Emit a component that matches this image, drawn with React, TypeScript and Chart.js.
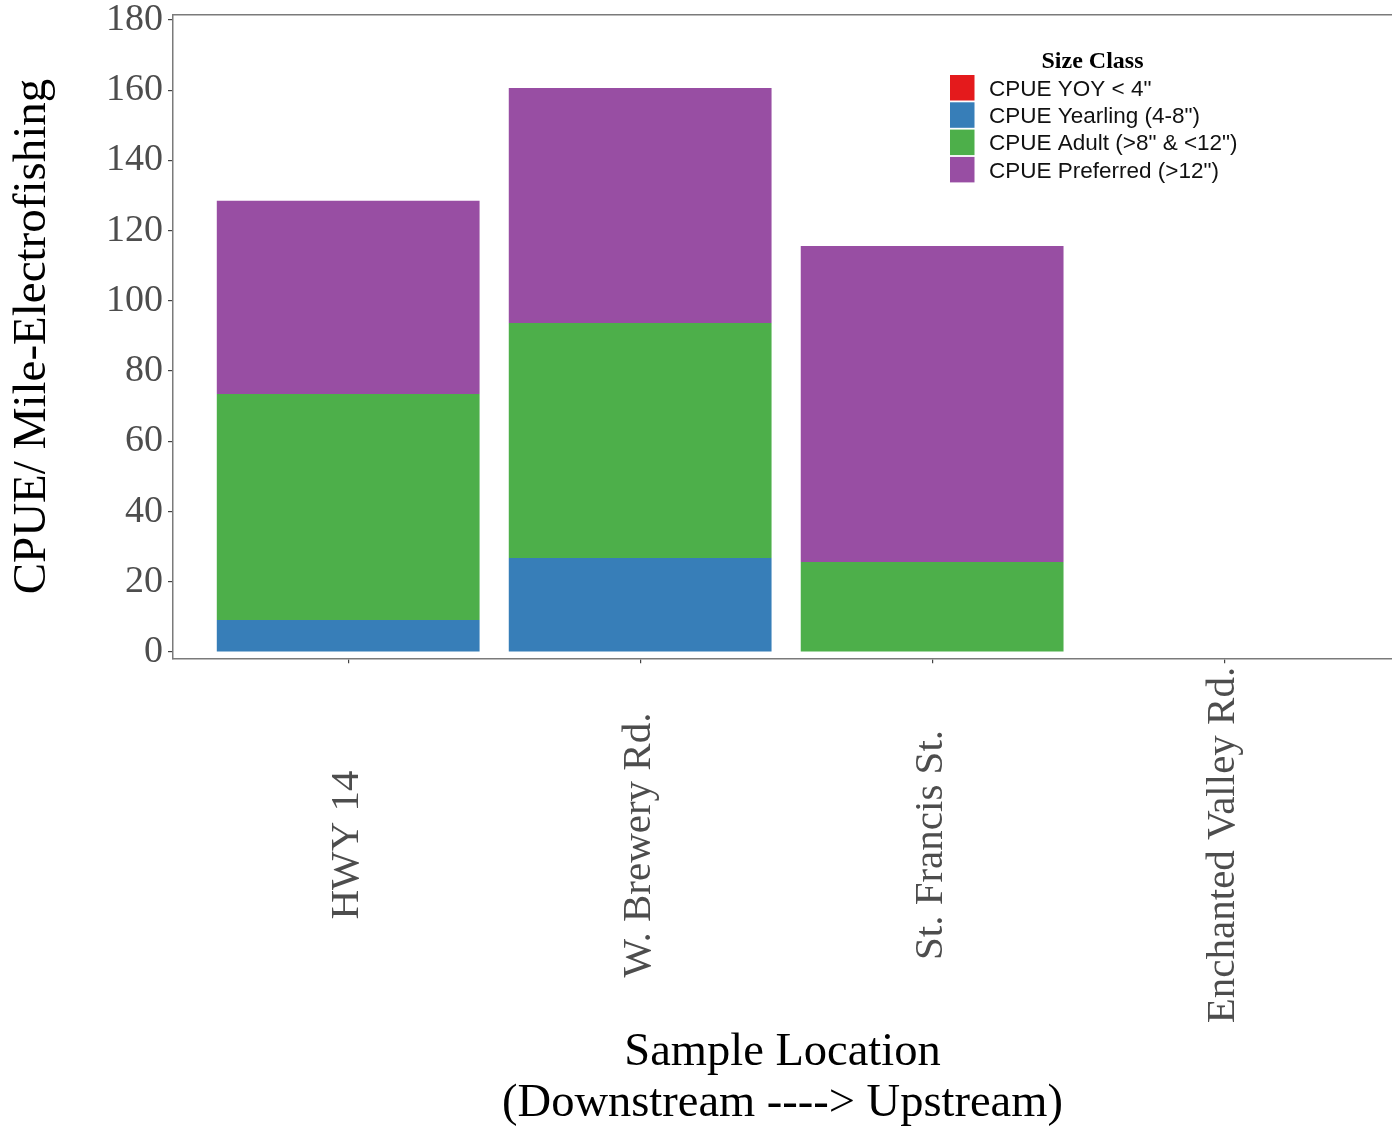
import React, { useEffect, useRef } from 'react';
import { Chart, registerables } from 'chart.js';

Chart.register(...registerables);

const categories = ['HWY 14', 'W. Brewery Rd.', 'St. Francis St.', 'Enchanted Valley Rd.'];
const seriesNames = ['CPUE YOY < 4"', 'CPUE Yearling (4-8")', 'CPUE Adult (>8" & <12")', 'CPUE Preferred (>12")'];
const yoy = [0, 0, 0, 0];
const yearling = [9.1, 26.8, 0, 0];
const adult = [64.4, 66.9, 25.6, 0];
const preferred = [55.0, 66.9, 90.0, 0];
const yTicks = [0, 20, 40, 60, 80, 100, 120, 140, 160, 180];
const seriesColors = ['#e41a1c', '#377eb8', '#4daf4a', '#984ea3'];
const legendTitle = 'Size Class';
const yTitle = 'CPUE/ Mile-Electrofishing';
const xTitle = ['Sample Location', '(Downstream ----> Upstream)'];

const SERIF = "'Liberation Serif', 'Times New Roman', serif";
const SANS = "'Liberation Sans', Arial, sans-serif";
const AXIS_COLOR = '#7a7a7a';
const TICK_TEXT = '#4d4d4d';

const W = 1392;
const H = 1130;

const customDraw = {
  id: 'customDraw',
  afterDraw(chart: any) {
    const ctx = chart.ctx;
    const area = chart.chartArea;
    const xs = chart.scales.x;
    ctx.save();
    // top border of panel
    ctx.strokeStyle = AXIS_COLOR;
    ctx.lineWidth = 1.5;
    ctx.beginPath();
    ctx.moveTo(area.left, area.top);
    ctx.lineTo(area.right, area.top);
    ctx.stroke();

    // rotated, centred category labels
    ctx.font = `41px ${SERIF}`;
    ctx.fillStyle = TICK_TEXT;
    ctx.textAlign = 'center';
    ctx.textBaseline = 'alphabetic';
    categories.forEach((c, i) => {
      const px = xs.getPixelForValue(i);
      ctx.save();
      ctx.translate(px + 10, 845);
      ctx.rotate(-Math.PI / 2);
      ctx.fillText(c, 0, 0);
      ctx.restore();
    });

    // legend
    ctx.fillStyle = '#000';
    ctx.font = `bold 24px ${SERIF}`;
    ctx.textAlign = 'center';
    ctx.fillText(legendTitle, 1092.5, 68.3);
    ctx.textAlign = 'left';
    ctx.font = `22.5px ${SANS}`;
    chart.data.datasets.forEach((ds: any, i: number) => {
      const top = 75 + i * 27.3;
      ctx.fillStyle = ds.backgroundColor;
      ctx.fillRect(950, top, 24.5, 25.5);
      ctx.fillStyle = '#111';
      ctx.fillText(ds.label, 989, top + 12.75 + 8);
    });
    ctx.restore();
  },
};

export default function App() {
  const ref = useRef<HTMLCanvasElement | null>(null);

  useEffect(() => {
    if (!ref.current) return;
    const seriesValues = [yoy, yearling, adult, preferred];
    const chart = new Chart(ref.current, {
      type: 'bar',
      data: {
        datasets: seriesNames.map((name, s) => ({
          label: name,
          data: categories.map((_, i) => ({ x: i, y: seriesValues[s][i] })),
          backgroundColor: seriesColors[s],
          borderWidth: 0,
          barPercentage: 0.9,
          categoryPercentage: 1,
        })),
      },
      options: {
        responsive: false,
        animation: false,
        events: [],
        layout: { padding: { top: 14.7, left: 0, right: 0, bottom: 0 } },
        plugins: {
          legend: { display: false },
          tooltip: { enabled: false },
          title: { display: false },
        },
        scales: {
          x: {
            type: 'linear',
            stacked: true,
            offset: false,
            min: -0.6,
            max: 3.575,
            afterBuildTicks: (s: any) => {
              s.ticks = categories.map((_, i) => ({ value: i }));
            },
            afterFit: (s: any) => {
              s.height = H - 658.3;
            },
            ticks: { display: false },
            grid: { offset: false, drawOnChartArea: false, drawTicks: true, tickLength: 5, color: '#444', lineWidth: 1.2 },
            border: { display: true, color: AXIS_COLOR, width: 1.5 },
            title: {
              display: true,
              text: xTitle,
              color: '#000',
              font: { family: SERIF, size: 46.5, lineHeight: 1.08 },
              padding: { top: 0, bottom: 1.5 },
            },
          },
          y: {
            type: 'linear',
            stacked: true,
            min: -1.8,
            max: 181.5,
            afterBuildTicks: (s: any) => {
              s.ticks = yTicks.map((v) => ({ value: v }));
            },
            afterFit: (s: any) => {
              s.width = 173;
            },
            ticks: {
              autoSkip: false,
              color: TICK_TEXT,
              font: { family: SERIF, size: 38, lineHeight: 0.3 },
              padding: 5,
            },
            grid: { drawOnChartArea: false, drawTicks: true, tickLength: 5, color: '#444', lineWidth: 1.2 },
            border: { display: true, color: AXIS_COLOR, width: 1.5 },
            title: {
              display: true,
              text: yTitle,
              color: '#000',
              font: { family: SERIF, size: 47 },
              padding: { top: 4, bottom: 0 },
            },
          },
        },
      } as any,
      plugins: [customDraw],
    });
    return () => chart.destroy();
  }, []);

  return (
    <div style={{ position: 'absolute', left: 0, top: 0, width: W, height: H, background: '#fff' }}>
      <canvas ref={ref} width={W} height={H} style={{ display: 'block', width: W, height: H }} />
    </div>
  );
}
